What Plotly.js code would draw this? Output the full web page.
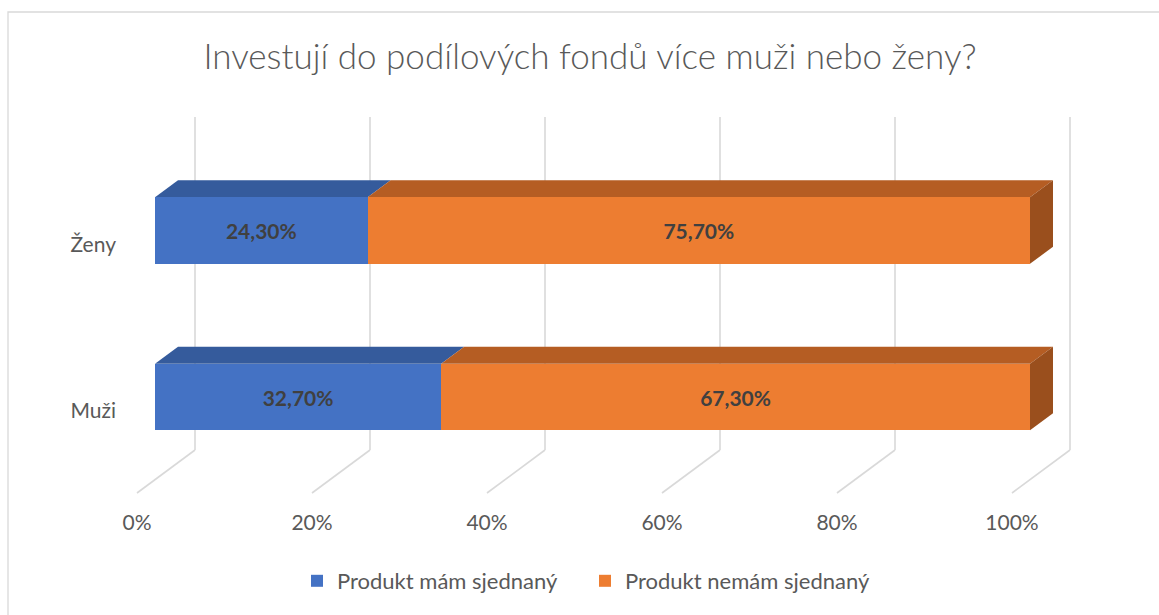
<!DOCTYPE html>
<html><head><meta charset="utf-8">
<script src="https://cdn.plot.ly/plotly-3.0.1.min.js"></script>
<style>body{margin:0;background:#fff}#chart{width:1159px;height:615px}</style>
</head><body><div id="chart"></div>
<script>
const categories = ['Muži', 'Ženy'];
const seriesNames = ['Produkt mám sjednaný', 'Produkt nemám sjednaný'];
const produktMam = [0.327, 0.243];
const produktNemam = [0.673, 0.757];
const xTicks = [0, 0.2, 0.4, 0.6, 0.8, 1];

const W = 1159, H = 615;
const M = {l: 125, r: 59, t: 90, b: 110};
const plotW = W - M.l - M.r, plotH = H - M.t - M.b;
const xRange = [-(155 - M.l) / 875, -(155 - M.l) / 875 + plotW / 875];
const yRange = [-(H - M.b - 397) / 166.5, -(H - M.b - 397) / 166.5 + plotH / 166.5];
const dxu = px => px * (xRange[1] - xRange[0]) / plotW;
const dyu = px => px * (yRange[1] - yRange[0]) / plotH;
const paperY = py => (H - M.b - py) / plotH;
const paperX = px => (px - M.l) / plotW;

const barW = 0.4;
const yPos = categories.map((c, i) => i);
const colors = {
  front: ['#4472C4', '#ED7D31'],
  top: ['#355B9C', '#B55D23'],
  side: ['#9A4F1D', '#9A4F1D']
};
const txtColor = '#404040', axColor = '#595959', gridColor = '#D9D9D9';
const FONT = 'Lato, "Open Sans", sans-serif';

const traces = [produktMam, produktNemam].map((vals, s) => ({
  type: 'bar', orientation: 'h', name: seriesNames[s],
  y: yPos, x: vals, width: barW,
  marker: {color: colors.front[s], line: {width: 0}},
  texttemplate: '%{x:.2%}', textposition: 'inside', insidetextanchor: 'middle',
  textangle: 0, constraintext: 'none',
  textfont: {family: FONT, size: 21, color: txtColor, weight: 700},
  hoverinfo: 'skip'
}));

const shapes = [];
// outer frame
shapes.push({type: 'rect', xref: 'paper', yref: 'paper', x0: paperX(8), x1: paperX(1170), y0: paperY(12), y1: paperY(640),
  line: {color: gridColor, width: 1.3}, fillcolor: 'rgba(0,0,0,0)', layer: 'below'});
// gridlines: back wall + floor diagonal
const DX_BACK = 40, DX_FRONT = -18;
xTicks.forEach(v => {
  shapes.push({type: 'line', xref: 'x', xsizemode: 'pixel', xanchor: v, x0: DX_BACK, x1: DX_BACK,
    yref: 'paper', y0: paperY(450), y1: paperY(117), line: {color: gridColor, width: 1.6}, layer: 'below'});
  shapes.push({type: 'line', xref: 'x', xsizemode: 'pixel', xanchor: v, x0: DX_BACK, x1: DX_FRONT,
    yref: 'paper', y0: paperY(450), y1: paperY(493), line: {color: gridColor, width: 1.6}, layer: 'below'});
});
// 3D faces
const dx = dxu(23), dy = dyu(17);
yPos.forEach((yc, i) => {
  const yt = yc + barW / 2, yb = yc - barW / 2;
  let start = 0;
  [produktMam, produktNemam].forEach((vals, s) => {
    const end = start + vals[i];
    shapes.push({type: 'path', xref: 'x', yref: 'y', layer: 'below', line: {width: 0},
      fillcolor: colors.top[s],
      path: `M${start},${yt} L${start + dx},${yt + dy} L${end + dx},${yt + dy} L${end},${yt} Z`});
    start = end;
  });
  shapes.push({type: 'path', xref: 'x', yref: 'y', layer: 'below', line: {width: 0},
    fillcolor: colors.side[1],
    path: `M${start},${yt} L${start + dx},${yt + dy} L${start + dx},${yb + dy} L${start},${yb} Z`});
});

const layout = {
  width: W, height: H, margin: M,
  paper_bgcolor: '#fff', plot_bgcolor: 'rgba(0,0,0,0)',
  separators: ', ',
  barmode: 'stack',
  font: {family: FONT, color: axColor},
  title: {text: 'Investují do podílových fondů více muži nebo ženy?',
    font: {family: FONT, size: 35, color: axColor, weight: 300},
    xref: 'container', yref: 'container', x: 590 / W, y: 1 - 57 / H, xanchor: 'center', yanchor: 'middle'},
  xaxis: {range: xRange, tickvals: xTicks, tickformat: '.0%', showgrid: false, zeroline: false,
    showline: false, ticks: '', ticklabelshift: -18, ticklabelstandoff: 3,
    tickfont: {family: FONT, size: 21, color: axColor}, fixedrange: true},
  yaxis: {range: yRange, tickvals: yPos, ticktext: categories, showgrid: false, zeroline: false,
    showline: false, ticks: '', ticklabelshift: 14, ticklabelstandoff: 8,
    tickfont: {family: FONT, size: 21, color: axColor}, fixedrange: true},
  showlegend: true,
  legend: {orientation: 'h', xref: 'container', yref: 'container', x: 297 / W, y: (H - 581) / H,
    xanchor: 'left', yanchor: 'middle', font: {family: FONT, size: 22, color: axColor},
    entrywidth: 243, entrywidthmode: 'pixels', itemwidth: 30,
    traceorder: 'normal', itemclick: false},
  shapes: shapes,
  hovermode: false
};

Plotly.newPlot('chart', traces, layout, {displayModeBar: false, staticPlot: true});
</script>
</body></html>
